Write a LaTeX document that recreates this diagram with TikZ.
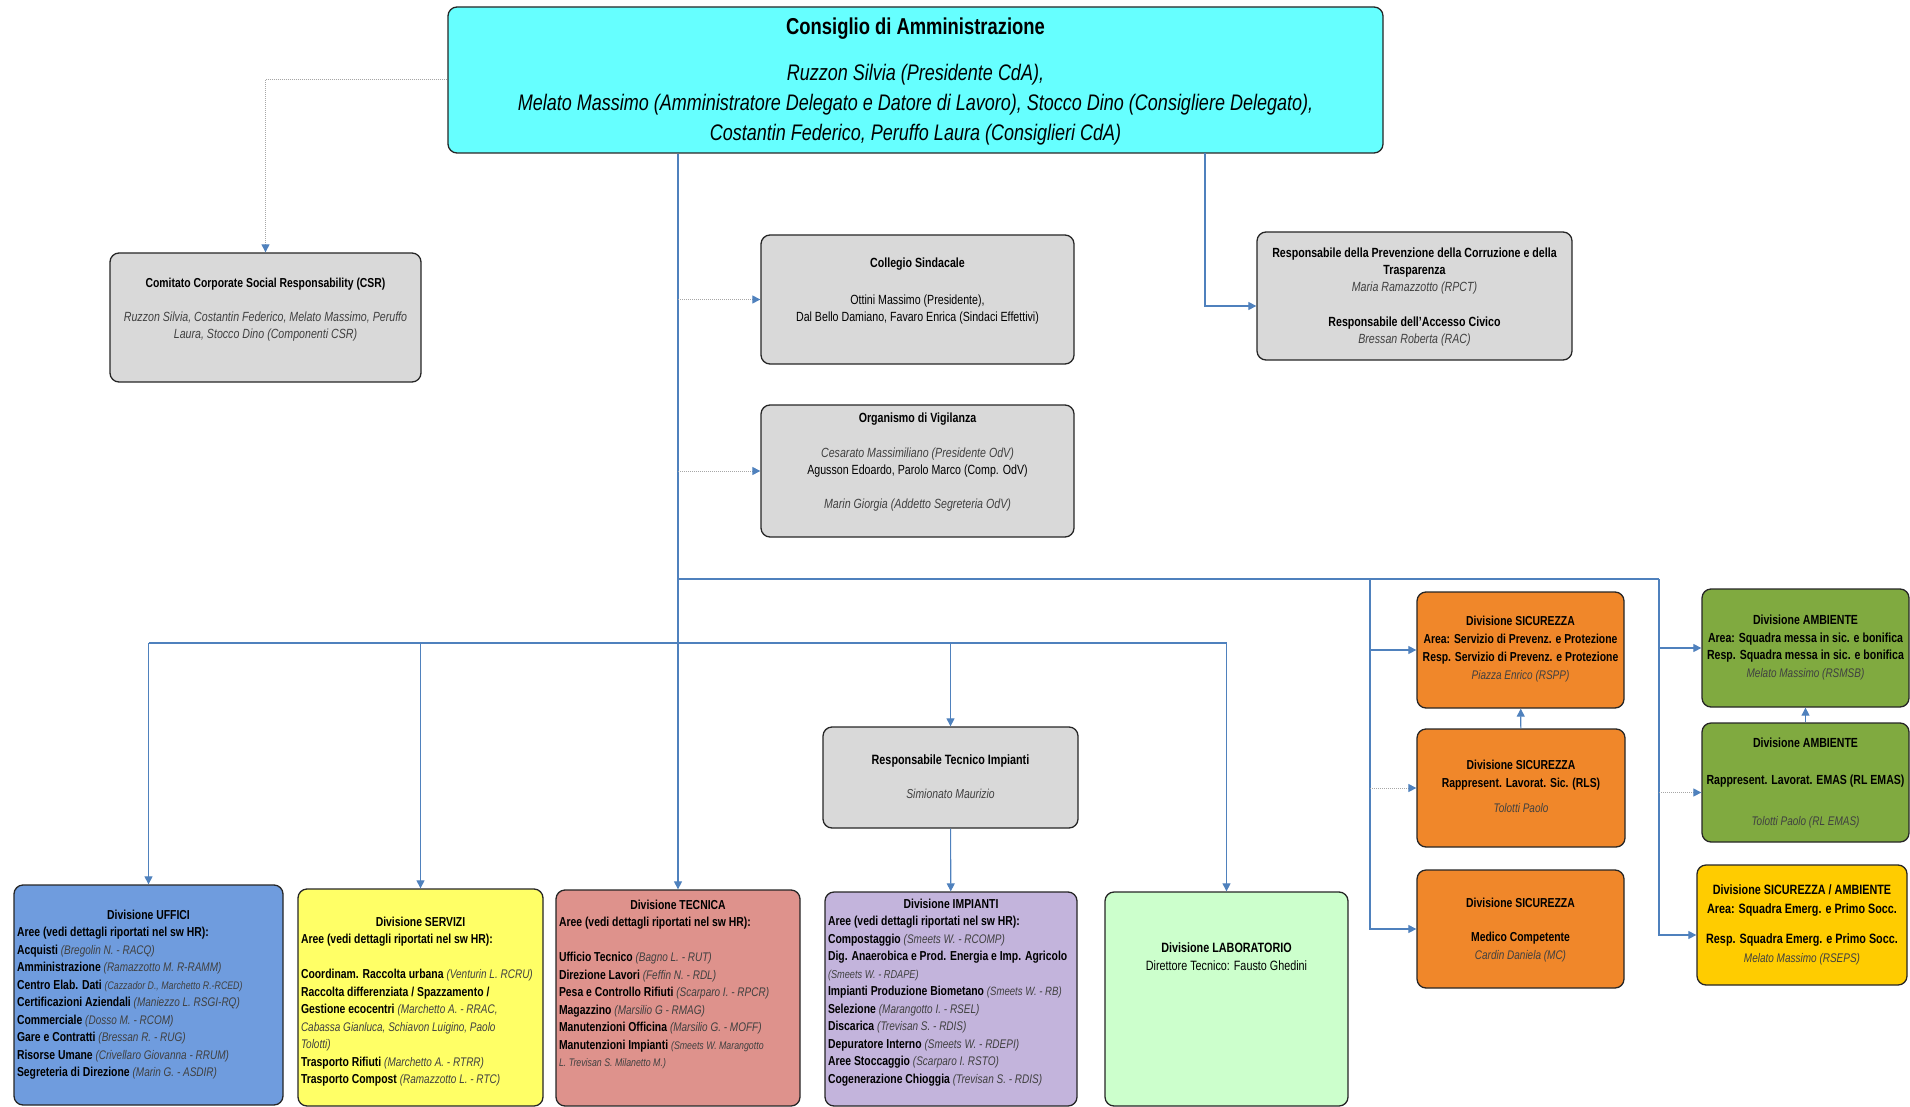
\documentclass[tikz,border=0pt]{standalone}
\usepackage{fontspec}
\setmainfont{Liberation Sans}[FakeStretch=0.8]
\usetikzlibrary{arrows.meta}

\definecolor{cdacyan}{HTML}{66FFFF}
\definecolor{boxgray}{HTML}{D9D9D9}
\definecolor{ufficiblue}{HTML}{6F9CDE}
\definecolor{serviziyellow}{HTML}{FFFF66}
\definecolor{tecnicared}{HTML}{DE928C}
\definecolor{impiantililac}{HTML}{C3B4DC}
\definecolor{labgreen}{HTML}{CCFFCC}
\definecolor{sicorange}{HTML}{F0872A}
\definecolor{ambgreen}{HTML}{80AA40}
\definecolor{sicambgold}{HTML}{FFCC00}
\definecolor{linkblue}{HTML}{4F81BD}
\definecolor{namegray}{HTML}{404040}

\newcommand{\boxbody}[4]{\begin{minipage}[c][#1][t]{#2}\vspace*{#3}#4\end{minipage}}
\newcommand{\nm}[1]{{\itshape\color{namegray}#1}}
\newcommand{\nms}[2][12.5]{{\fontsize{#1}{17.5}\selectfont\itshape\color{namegray}#2}}

\begin{document}
\begin{tikzpicture}
  [x=1pt, y=-1pt,
   box/.style={draw=black!85, line width=1.3pt, rounded corners=9pt, inner sep=0pt},
   line/.style={draw=linkblue, line width=1.1pt},
   link/.style={line, -{Triangle[length=8pt, width=8pt]}},
   dotlink/.style={draw=black!35, line width=1pt, densely dotted, -{Triangle[length=8pt, width=8pt, color=linkblue]}}]

\useasboundingbox (0,0) rectangle (1910,1107);

% vertice
\node[box, fill=cdacyan, minimum width=935pt, minimum height=146pt] (cda) at (915.5,80)
  {\boxbody{146pt}{920pt}{11pt}{\centering
   {\fontsize{23}{27}\selectfont\bfseries Consiglio di Amministrazione\par}
   \vspace{16pt}
   {\fontsize{22.5}{30}\selectfont\itshape Ruzzon Silvia (Presidente CdA),\\
    Melato Massimo (Amministratore Delegato e Datore di Lavoro), Stocco Dino (Consigliere Delegato),\\
    Costantin Federico, Peruffo Laura (Consiglieri CdA)\par}}};

% organi di controllo
\node[box, fill=boxgray, minimum width=311pt, minimum height=129pt] (csr) at (265.5,317.5)
  {\boxbody{129pt}{303pt}{25pt}{\centering
   {\fontsize{13}{17}\selectfont\bfseries Comitato Corporate Social Responsability (CSR)\par}
   \vspace{17pt}
   {\fontsize{13.3}{17}\selectfont\nm{Ruzzon Silvia, Costantin Federico, Melato Massimo, Peruffo\\
    Laura, Stocco Dino (Componenti CSR)}\par}}};
\node[box, fill=boxgray, minimum width=313pt, minimum height=129pt] (coll) at (917.5,299.5)
  {\boxbody{129pt}{305pt}{23pt}{\centering
   {\fontsize{13.3}{17}\selectfont\bfseries Collegio Sindacale\par}
   \vspace{20pt}
   {\fontsize{13.3}{17}\selectfont Ottini Massimo (Presidente),\\
    Dal Bello Damiano, Favaro Enrica (Sindaci Effettivi)\par}}};
\node[box, fill=boxgray, minimum width=313pt, minimum height=132pt] (odv) at (917.5,471)
  {\boxbody{132pt}{305pt}{8pt}{\centering
   {\fontsize{13.3}{17}\selectfont\bfseries Organismo di Vigilanza\par}
   \vspace{18pt}
   {\fontsize{13.3}{17}\selectfont\nm{Cesarato Massimiliano (Presidente OdV)}\\
    Agusson Edoardo, Parolo Marco (Comp. OdV)\par}
   \vspace{17pt}
   {\fontsize{13.3}{17}\selectfont\nm{Marin Giorgia (Addetto Segreteria OdV)}\par}}};
\node[box, fill=boxgray, minimum width=315pt, minimum height=128pt] (rpct) at (1414.5,296)
  {\boxbody{128pt}{307pt}{16pt}{\centering
   {\fontsize{13.3}{17}\selectfont\bfseries Responsabile della Prevenzione della Corruzione e della\\
    Trasparenza\par}
   {\fontsize{13.3}{17}\selectfont\nm{Maria Ramazzotto (RPCT)}\par}
   \vspace{18pt}
   {\fontsize{13.3}{17}\selectfont\bfseries Responsabile dell'Accesso Civico\par}
   {\fontsize{13.3}{17}\selectfont\nm{Bressan Roberta (RAC)}\par}}};
\node[box, fill=boxgray, minimum width=255pt, minimum height=101pt] (rti) at (950.5,777.5)
  {\boxbody{101pt}{247pt}{28pt}{\centering
   {\fontsize{13.5}{17}\selectfont\bfseries Responsabile Tecnico Impianti\par}
   \vspace{17pt}
   {\fontsize{13}{17}\selectfont\nm{Simionato Maurizio}\par}}};

% divisioni
\node[box, fill=ufficiblue, minimum width=269pt, minimum height=220pt] (uffici) at (148.5,995)
  {\boxbody{220pt}{263pt}{25pt}{\fontsize{13}{17.5}\selectfont\raggedright
   {\centering\bfseries Divisione UFFICI\par}
   \textbf{Aree (vedi dettagli riportati nel sw HR):}\\
   \textbf{Acquisti} \nms{(Bregolin N. - RACQ)}\\
   \textbf{Amministrazione} \nms{(Ramazzotto M. R-RAMM)}\\
   \textbf{Centro Elab. Dati} \nms[11]{(Cazzador D., Marchetto R.-RCED)}\\
   \textbf{Certificazioni Aziendali} \nms{(Maniezzo L. RSGI-RQ)}\\
   \textbf{Commerciale} \nms{(Dosso M. - RCOM)}\\
   \textbf{Gare e Contratti} \nms{(Bressan R. - RUG)}\\
   \textbf{Risorse Umane} \nms{(Crivellaro Giovanna - RRUM)}\\
   \textbf{Segreteria di Direzione} \nms{(Marin G. - ASDIR)}}};
\node[box, fill=serviziyellow, minimum width=245pt, minimum height=217pt] (servizi) at (420.5,997.5)
  {\boxbody{217pt}{239pt}{28pt}{\fontsize{13}{17.5}\selectfont\raggedright
   {\centering\bfseries Divisione SERVIZI\par}
   \textbf{Aree (vedi dettagli riportati nel sw HR):}\\[17.5pt]
   \textbf{Coordinam. Raccolta urbana} \nms{(Venturin L. RCRU)}\\
   \textbf{Raccolta differenziata / Spazzamento /}\\
   \textbf{Gestione ecocentri} \nms{(Marchetto A. - RRAC,}\\
   \nms{Cabassa Gianluca, Schiavon Luigino, Paolo}\\
   \nms{Tolotti)}\\
   \textbf{Trasporto Rifiuti} \nms{(Marchetto A. - RTRR)}\\
   \textbf{Trasporto Compost} \nms{(Ramazzotto L. - RTC)}}};
\node[box, fill=tecnicared, minimum width=244pt, minimum height=216pt] (tecnica) at (678,998)
  {\boxbody{216pt}{238pt}{10pt}{\fontsize{13}{17.5}\selectfont\raggedright
   {\centering\bfseries Divisione TECNICA\par}
   \textbf{Aree (vedi dettagli riportati nel sw HR):}\\[17.5pt]
   \textbf{Ufficio Tecnico} \nms{(Bagno L. - RUT)}\\
   \textbf{Direzione Lavori} \nms{(Feffin N. - RDL)}\\
   \textbf{Pesa e Controllo Rifiuti} \nms{(Scarparo I. - RPCR)}\\
   \textbf{Magazzino} \nms{(Marsilio G - RMAG)}\\
   \textbf{Manutenzioni Officina} \nms{(Marsilio G. - MOFF)}\\
   \textbf{Manutenzioni Impianti} \nms[11]{(Smeets W. Marangotto}\\
   \nms[11]{L. Trevisan S. Milanetto M.)}}};
\node[box, fill=impiantililac, minimum width=252pt, minimum height=214pt] (impianti) at (951,999)
  {\boxbody{214pt}{246pt}{7pt}{\fontsize{13}{17.5}\selectfont\raggedright
   {\centering\bfseries Divisione IMPIANTI\par}
   \textbf{Aree (vedi dettagli riportati nel sw HR):}\\
   \textbf{Compostaggio} \nms{(Smeets W. - RCOMP)}\\
   \textbf{Dig. Anaerobica e Prod. Energia e Imp. Agricolo}\\
   \nms[11.5]{(Smeets W. - RDAPE)}\\
   \textbf{Impianti Produzione Biometano} \nms[12]{(Smeets W. - RB)}\\
   \textbf{Selezione} \nms{(Marangotto I. - RSEL)}\\
   \textbf{Discarica} \nms{(Trevisan S. - RDIS)}\\
   \textbf{Depuratore Interno} \nms{(Smeets W. - RDEPI)}\\
   \textbf{Aree Stoccaggio} \nms{(Scarparo I. RSTO)}\\
   \textbf{Cogenerazione Chioggia} \nms{(Trevisan S. - RDIS)}}};
\node[box, fill=labgreen, minimum width=243pt, minimum height=214pt] (lab) at (1226.5,999)
  {\boxbody{214pt}{237pt}{51pt}{\fontsize{13.5}{18}\selectfont\centering
   \textbf{Divisione LABORATORIO}\\
   Direttore Tecnico: Fausto Ghedini\par}};

% sicurezza e ambiente
\node[box, fill=sicorange, minimum width=207pt, minimum height=116pt] (sic1) at (1520.5,650)
  {\boxbody{116pt}{203pt}{24pt}{\fontsize{13}{18}\selectfont\centering\bfseries
   Divisione SICUREZZA\\
   Area: Servizio di Prevenz. e Protezione\\
   Resp. Servizio di Prevenz. e Protezione\\
   \mdseries\nm{\fontsize{12.5}{18}\selectfont Piazza Enrico (RSPP)}\par}};
\node[box, fill=sicorange, minimum width=208pt, minimum height=118pt] (sic2) at (1521,788)
  {\boxbody{118pt}{204pt}{31pt}{\fontsize{13}{18}\selectfont\centering\bfseries
   Divisione SICUREZZA\\
   Rappresent. Lavorat. Sic. (RLS)\\[7pt]
   \mdseries\nm{\fontsize{12.5}{18}\selectfont Tolotti Paolo}\par}};
\node[box, fill=sicorange, minimum width=207pt, minimum height=118pt] (sic3) at (1520.5,929)
  {\boxbody{118pt}{203pt}{28pt}{\fontsize{13}{18}\selectfont\centering\bfseries
   Divisione SICUREZZA\\[16pt]
   Medico Competente\\
   \mdseries\nm{\fontsize{12.5}{18}\selectfont Cardin Daniela (MC)}\par}};
\node[box, fill=ambgreen, minimum width=207pt, minimum height=118pt] (amb1) at (1805.5,648)
  {\boxbody{118pt}{205pt}{26pt}{\fontsize{13.2}{17.5}\selectfont\centering\bfseries
   Divisione AMBIENTE\\
   Area: Squadra messa in sic. e bonifica\\
   Resp. Squadra messa in sic. e bonifica\\
   \mdseries\nm{\fontsize{12.5}{17.5}\selectfont Melato Massimo (RSMSB)}\par}};
\node[box, fill=ambgreen, minimum width=207pt, minimum height=119pt] (amb2) at (1805.5,782.5)
  {\boxbody{119pt}{205pt}{15pt}{\fontsize{13.2}{18}\selectfont\centering\bfseries
   Divisione AMBIENTE\\[19pt]
   Rappresent. Lavorat. EMAS (RL EMAS)\\[23pt]
   \mdseries\nm{\fontsize{12.5}{18}\selectfont Tolotti Paolo (RL EMAS)}\par}};
\node[box, fill=sicambgold, minimum width=210pt, minimum height=120pt] (sicamb) at (1802,925)
  {\boxbody{120pt}{206pt}{20pt}{\fontsize{13.5}{18.5}\selectfont\centering\bfseries
   Divisione SICUREZZA / AMBIENTE\\
   Area: Squadra Emerg. e Primo Socc.\\[12pt]
   Resp. Squadra Emerg. e Primo Socc.\\
   \mdseries\nm{\fontsize{12.5}{18.5}\selectfont Melato Massimo (RSEPS)}\par}};

% collegamenti
\coordinate (bus) at (0,643);
\coordinate (b0) at (678,579);
\coordinate (b1) at (1370,579);
\coordinate (b2) at (1659,579);
\coordinate (cr) at (1205,153);
\coordinate (rin) at ([yshift=-10pt]rpct.west);
\coordinate (a2in) at ([yshift=-10pt]amb2.west);
\coordinate (sain) at ([yshift=-10pt]sicamb.west);

\draw[dotlink] (cda.west) -| (csr.north);
\draw[link] (cda.south -| tecnica.north) -- (tecnica.north);
\draw[dotlink] (coll.west -| tecnica.north) -- (coll.west);
\draw[dotlink] (odv.west -| tecnica.north) -- (odv.west);
\draw[link] (cr) |- (rin);

\draw[line] (b0) -- (b2);
\draw[link] (b1) |- (sic3.west);
\draw[link] (b1 |- sic1.west) -- (sic1.west);
\draw[dotlink] (b1 |- sic2.west) -- (sic2.west);
\draw[link] (b2) |- (sain);
\draw[link] (b2 |- amb1.west) -- (amb1.west);
\draw[dotlink] (b2 |- a2in) -- (a2in);
\draw (sic2) edge[link] (sic1);
\draw (amb2) edge[link] (amb1);

\draw[line] (uffici.north |- bus) -- (lab.north |- bus);
\foreach \n in {uffici, servizi, rti, lab}
  \draw[link] (\n.north |- bus) -- (\n.north);
\draw (rti) edge[link] (impianti);
\end{tikzpicture}
\end{document}
